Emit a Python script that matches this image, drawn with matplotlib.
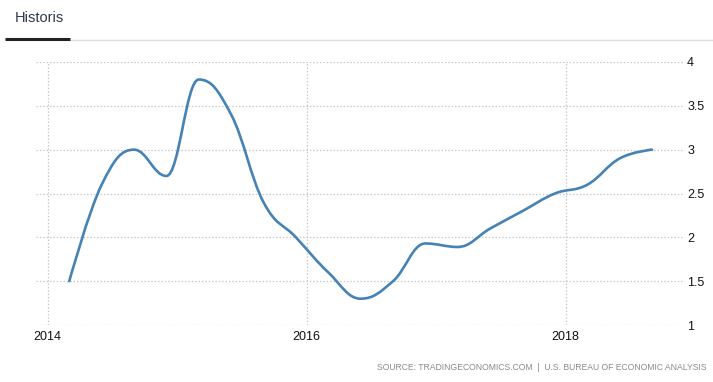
import numpy as np
import matplotlib as mpl
mpl.use('Agg')
import matplotlib.pyplot as plt
from matplotlib.path import Path
from matplotlib.patches import PathPatch

# quarterly points, dated on the first day of the quarter's last month
dates = ['2014-03', '2014-06', '2014-09', '2014-12',
         '2015-03', '2015-06', '2015-09', '2015-12',
         '2016-03', '2016-06', '2016-09', '2016-12',
         '2017-03', '2017-06', '2017-09', '2017-12',
         '2018-03', '2018-06', '2018-09']
values = [1.5, 2.6, 3.0, 2.7,
          3.8, 3.4, 2.4, 2.0,
          1.6, 1.3, 1.5, 1.93,
          1.89, 2.1, 2.3, 2.5,
          2.6, 2.9, 3.0]
year_ticks = [2014, 2016, 2018]
y_ticks = [1, 1.5, 2, 2.5, 3, 3.5, 4]
y_labels = ['1', '1.5', '2', '2.5', '3', '3.5', '4']
source = 'SOURCE: TRADINGECONOMICS.COM  |  U.S. BUREAU OF ECONOMIC ANALYSIS'


def to_year(s):
	y, m = s.split('-')
	return int(y) + (int(m) - 1) / 12.0


def spline_path(xs, ys, smoothing=1.5):
	# highcharts-like spline with clamped control points
	denom = smoothing + 1
	verts = [(xs[0], ys[0])]
	codes = [Path.MOVETO]
	ctrl = []
	n = len(xs)
	for i in range(n):
		if i == 0 or i == n - 1:
			ctrl.append(None)
			continue
		px, py = xs[i], ys[i]
		lx, ly = xs[i - 1], ys[i - 1]
		nx, ny = xs[i + 1], ys[i + 1]
		lcx = (smoothing * px + lx) / denom
		lcy = (smoothing * py + ly) / denom
		rcx = (smoothing * px + nx) / denom
		rcy = (smoothing * py + ny) / denom
		if rcx != lcx:
			corr = ((rcy - lcy) * (rcx - px)) / (rcx - lcx) + py - rcy
			lcy += corr
			rcy += corr
		if lcy > max(ly, py):
			lcy = max(ly, py)
			rcy = 2 * py - lcy
		elif lcy < min(ly, py):
			lcy = min(ly, py)
			rcy = 2 * py - lcy
		if rcy > max(py, ny):
			rcy = max(py, ny)
			lcy = 2 * py - rcy
		elif rcy < min(py, ny):
			rcy = min(py, ny)
			lcy = 2 * py - rcy
		ctrl.append(((lcx, lcy), (rcx, rcy)))
	for i in range(1, n):
		a = ctrl[i - 1][1] if ctrl[i - 1] else (xs[i - 1], ys[i - 1])
		b = ctrl[i][0] if ctrl[i] else (xs[i], ys[i])
		verts += [a, b, (xs[i], ys[i])]
		codes += [Path.CURVE4] * 3
	return Path(verts, codes)


x = np.array([to_year(d) for d in dates])
y = np.array(values)

W, H = 713, 382
fig = plt.figure(figsize=(W / 100, H / 100), dpi=100)
plt.rcParams['font.family'] = ['Liberation Sans', 'DejaVu Sans']

# axes area in pixels: x 36..683, y 62..325
ax = fig.add_axes([36 / W, (H - 325) / H, (683 - 36) / W, (325 - 62) / H])
px_per_year = (565.7 - 47.7) / 4
ax.set_xlim(2014 - (47.7 - 36) / px_per_year, 2014 + (683 - 47.7) / px_per_year)
ax.set_ylim(1, 4)

for s in ax.spines.values():
	s.set_visible(False)
ax.set_xticks(year_ticks)
ax.set_xticklabels([str(t) for t in year_ticks])
ax.set_yticks(y_ticks)
ax.set_yticklabels(y_labels)
ax.yaxis.tick_right()
ax.tick_params(axis='both', length=0, labelsize=9, colors='#111111')
ax.tick_params(axis='y', pad=3)
ax.tick_params(axis='x', pad=4)
ax.grid(True, color='#c8c8c8', linestyle=(0, (1.2, 1.5)), linewidth=0.9)
ax.set_axisbelow(True)

ax.add_patch(PathPatch(spline_path(x, y), fill=False, edgecolor='#4682b4',
                       linewidth=1.9, capstyle='round', joinstyle='round'))

# header tab
fig.text(15 / W, 1 - 18 / H, 'Historis', fontsize=10.5, color='#2b3a4a',
         va='center', ha='left')
fig.add_artist(plt.Line2D([70 / W, 1], [1 - 39.5 / H] * 2, color='#dddddd',
                          linewidth=1.0, transform=fig.transFigure))
fig.add_artist(plt.Line2D([5 / W, 70 / W], [1 - 39 / H] * 2, color='#222222',
                          linewidth=2.2, transform=fig.transFigure, solid_capstyle='butt'))

fig.text(377 / W, 1 - 368 / H, source, fontsize=6.2, color='#8a8a8a',
         ha='left', va='center')

fig.savefig('out.png', dpi=100)
